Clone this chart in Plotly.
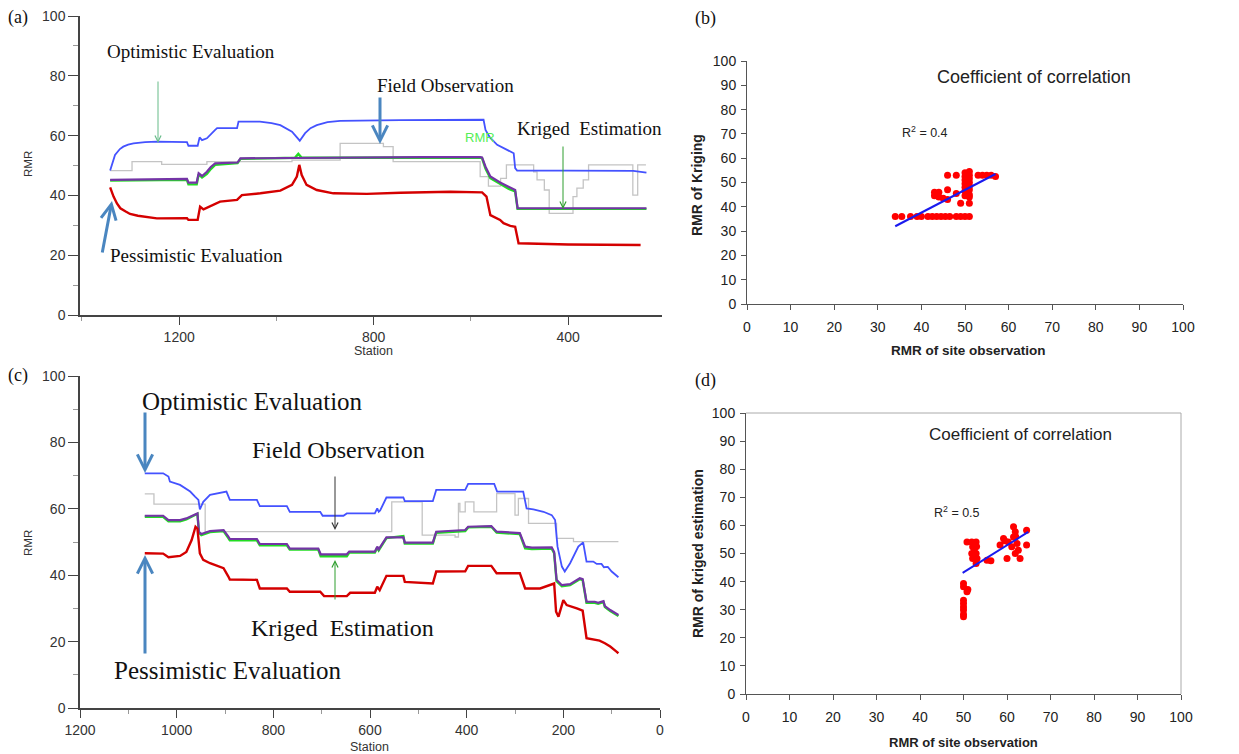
import plotly.graph_objects as go

W, H = 1239, 754
OFF = 8  # page body margin of the browser

# ---------------- Panel (a) : RMR along station ----------------
a_blue_st = [1342, 1336, 1332, 1322, 1315, 1305, 1294, 1270, 1246, 1184, 1181, 1162, 1158, 1153, 1143, 1126, 1122,
             1081, 1078, 1034, 1010, 992, 968, 952, 941, 930, 917, 895, 869, 745, 574, 570, 561, 546, 527, 512,
             509, 505, 400, 266, 239]
a_blue_val = [48.3, 51.5, 53.5, 55.5, 56.3, 57.0, 57.4, 57.8, 58.0, 57.8, 56.6, 56.6, 59.4, 58.5, 59.1, 61.9, 62.5,
              62.5, 64.7, 64.7, 64.2, 63.5, 61.3, 58.3, 60.8, 62.5, 63.5, 64.5, 64.9, 65.2, 65.3, 61.9, 59.4, 56.9,
              55.2, 54.1, 49.1, 48.3, 48.3, 48.2, 47.6]

a_gray_st = [1342, 1297, 1236, 1143, 968, 869, 780, 760, 581, 564, 539, 527, 471, 464, 449, 439, 390, 382, 369,
             358, 267, 257, 240]
a_gray_val = [48.3, 51.3, 50.4, 51.3, 51.8, 57.4, 56.3, 51.3, 46.3, 43.1, 45.7, 50.2, 47.9, 45.2, 41.8, 34.0, 39.6,
              42.4, 45.2, 50.2, 40.1, 50.2, 50.2]

a_purple_st = [1342, 1250, 1184, 1181, 1164, 1160, 1153, 1143, 1135, 1126, 1080, 1074, 1000, 958, 900, 800, 700,
               581, 577, 570, 560, 540, 522, 509, 504, 400, 239]
a_purple_val = [45.2, 45.4, 45.5, 44.3, 44.3, 47.4, 46.5, 47.9, 49.5, 50.7, 51.0, 52.4, 52.5, 52.6, 52.7, 52.8,
                52.8, 52.8, 52.7, 49.6, 46.3, 44.3, 42.7, 41.8, 35.7, 35.7, 35.7]

a_green_st = [1342, 1250, 1184, 1181, 1164, 1160, 1153, 1143, 1135, 1126, 1080, 1074, 1000, 962, 955, 948, 900, 800,
              700, 581, 577, 570, 560, 540, 522, 509, 504, 400, 239]
a_green_val = [45.0, 45.2, 45.2, 43.7, 43.7, 47.0, 46.0, 47.2, 48.8, 50.2, 50.8, 52.2, 52.4, 52.6, 53.9, 52.6, 52.6,
               52.7, 52.7, 52.7, 52.4, 49.0, 45.8, 43.8, 42.2, 41.3, 35.5, 35.5, 35.5]

a_red_st = [1342, 1335, 1328, 1321, 1310, 1301, 1285, 1266, 1246, 1184, 1181, 1162, 1157, 1150, 1136, 1116, 1081,
            1071, 1033, 992, 968, 958, 953, 948, 938, 917, 883, 814, 745, 642, 577, 568, 560, 540, 533, 519, 509,
            502, 400, 251]
a_red_val = [42.7, 39.6, 37.3, 35.7, 34.6, 33.8, 33.2, 32.7, 32.3, 32.4, 31.8, 31.8, 36.2, 35.3, 36.4, 37.9, 38.5,
             40.1, 40.7, 41.6, 43.5, 46.3, 50.2, 46.8, 43.5, 41.8, 40.7, 40.5, 40.9, 41.2, 41.0, 39.6, 33.4, 31.8,
             30.7, 29.8, 29.5, 24.0, 23.6, 23.4]

# ---------------- Panel (c) : RMR along station ----------------
c_blue_st = [1066, 1028, 1017, 1014, 993, 972, 962, 955, 952, 945, 931, 910, 897, 890, 834, 828, 772, 766, 703, 698,
             655, 648, 590, 585, 582, 579, 566, 531, 528, 470, 463, 403, 397, 343, 337, 283, 276, 262, 241, 224,
             217, 212, 203, 197, 186, 169, 159, 152, 138, 131, 121, 116, 108, 100, 86]
c_blue_val = [70.7, 70.7, 69.7, 68.2, 67.2, 65.2, 63.7, 62.7, 59.8, 62.1, 64.2, 64.9, 65.2, 62.7, 62.7, 60.8, 60.8,
              59.1, 59.1, 57.9, 57.9, 58.6, 58.6, 60.1, 59.1, 59.5, 63.4, 63.4, 62.3, 62.3, 65.7, 65.7, 67.5, 67.5,
              65.2, 65.2, 60.1, 59.8, 59.1, 58.1, 56.6, 48.6, 42.6, 41.1, 43.6, 48.6, 49.9, 44.1, 44.1, 43.4, 43.4,
              42.4, 42.5, 41.1, 39.4]

c_gray_st = [1066, 1047, 941, 555, 492, 424, 417, 414, 403, 385, 338, 300, 293, 272, 214, 179, 86]
c_gray_val = [64.5, 61.4, 53.1, 62.1, 52.1, 51.5, 61.6, 59.1, 62.1, 59.1, 64.6, 58.1, 63.1, 55.6, 51.1, 50.1, 50.1]

c_purple_st = [1066, 1028, 1017, 993, 980, 966, 957, 954, 949, 931, 903, 893, 890, 834, 828, 772, 766, 707, 702,
               648, 643, 590, 585, 582, 566, 531, 528, 470, 463, 403, 397, 349, 338, 290, 279, 265, 224, 219, 214,
               203, 186, 166, 160, 152, 135, 128, 117, 114, 103, 86]
c_purple_val = [57.9, 57.9, 56.6, 56.6, 57.1, 58.1, 58.6, 53.1, 52.4, 53.3, 53.6, 51.6, 50.9, 50.9, 49.4, 49.4,
                48.0, 48.0, 46.3, 46.3, 47.1, 47.1, 48.6, 47.8, 51.4, 51.4, 49.8, 49.8, 53.1, 53.6, 54.6, 54.8,
                53.1, 52.7, 48.6, 48.3, 48.4, 47.0, 38.6, 37.0, 37.3, 39.1, 38.8, 32.0, 32.0, 31.7, 32.2, 30.7,
                29.5, 28.0]

c_green_st = [1066, 1028, 1017, 993, 980, 966, 957, 954, 949, 931, 903, 893, 890, 834, 828, 772, 766, 707, 702,
              648, 643, 590, 585, 582, 566, 531, 528, 470, 463, 403, 397, 349, 338, 290, 279, 265, 224, 219, 214,
              203, 186, 166, 160, 152, 135, 128, 117, 114, 103, 86]
c_green_val = [57.6, 57.6, 56.2, 56.2, 56.8, 57.9, 58.5, 52.8, 52.1, 53.0, 53.3, 51.2, 50.5, 50.5, 49.0, 49.0,
               47.7, 47.7, 45.7, 45.7, 46.8, 46.8, 48.3, 47.5, 51.2, 51.8, 49.5, 49.5, 52.8, 53.3, 54.4, 54.6,
               52.8, 52.4, 48.1, 47.9, 48.0, 46.6, 38.2, 36.7, 37.0, 38.8, 38.5, 31.7, 31.7, 31.4, 31.9, 30.4,
               29.2, 27.7]

c_red_st = [1066, 1028, 1017, 993, 980, 969, 961, 957, 952, 945, 931, 903, 893, 890, 834, 828, 772, 766, 703, 695,
            648, 641, 590, 585, 580, 566, 531, 528, 470, 463, 403, 397, 349, 338, 290, 279, 248, 219, 215, 210, 200,
            193, 172, 160, 152, 135, 125, 114, 103, 90, 86]
c_red_val = [46.6, 46.5, 45.4, 45.8, 47.0, 50.6, 54.6, 54.0, 46.6, 44.6, 43.6, 42.1, 39.6, 38.7, 38.6, 36.0, 36.0,
             35.0, 35.0, 33.7, 33.7, 34.7, 34.7, 36.5, 35.5, 39.8, 39.8, 38.0, 37.5, 41.1, 41.2, 42.8, 42.8, 40.6,
             40.6, 36.0, 36.0, 37.5, 29.0, 27.5, 32.5, 31.0, 30.0, 29.3, 21.0, 20.5, 20.3, 19.5, 18.5, 17.0, 16.5]

# ---------------- Panel (b) : scatter ----------------
b_obs = [34, 35.5, 37.5, 39, 40, 41.5, 42.5, 43.5, 44.5, 45.5, 46.5, 48, 49, 50, 51,
         43, 44, 43, 44, 45, 46, 46, 48, 49, 51, 51, 46, 48, 50, 50, 50, 50, 50, 50,
         51, 51, 51, 51, 51, 51, 53, 54, 55, 56, 57, 50, 51]
b_krig = [36, 36, 36, 36, 36, 36, 36, 36, 36, 36, 36, 36, 36, 36, 36,
          46, 46, 44.5, 44, 43.5, 43, 47, 45.5, 41.5, 41.5, 45, 53, 53, 54, 52.5, 51, 49.5, 48, 46.5,
          54.5, 53, 51.5, 50, 48.5, 47, 53, 53, 53, 53, 52.5, 44.5, 44]
b_fit_x = [34, 57]
b_fit_y = [32, 53.5]

# ---------------- Panel (d) : scatter ----------------
d_obs = [50, 50, 51, 50.8, 50, 50, 50, 50, 50, 50,
         50.8, 51.9, 52.9, 52.1, 51.9, 52.9, 53.1, 52.9, 52.1, 52.5, 53,
         55.4, 56.3,
         58.4, 59.2, 60.3, 60, 61.5, 61.9, 61.5, 62.3, 62.6, 63, 64.5, 64.5, 61.1, 61.9, 59.5, 62]
d_krig = [39.3, 38.2, 37.2, 36.4, 33.4, 32.2, 31, 29.9, 28.4, 27.5,
          54.1, 54.1, 54.1, 52.4, 50, 50, 48.2, 46.4, 48.2, 51.5, 52.5,
          47.6, 47.4,
          53, 55.3, 54.1, 48.2, 59.5, 57.7, 55.9, 53.6, 51.2, 48.2, 58.3, 53, 52.4, 50, 54.5, 56]
d_fit_x = [49.8, 64.9]
d_fit_y = [43.1, 57.7]

BLUE = "#4452ff"
PURPLE = "#7434a6"
GREEN = "#22dd22"
RED = "#d40000"
GRAY = "#c4c4c4"
SERIF = "Liberation Serif"
SANS = "Liberation Sans"

fig = go.Figure()


def add_line(x, y, color, width, xa, ya, shape="linear"):
    fig.add_trace(go.Scatter(x=x, y=y, mode="lines", xaxis=xa, yaxis=ya, showlegend=False, hoverinfo="skip",
                             line=dict(color=color, width=width, shape=shape)))


# panel (a)
add_line(a_gray_st, a_gray_val, GRAY, 1.3, "x", "y", "hv")
add_line(a_blue_st, a_blue_val, BLUE, 1.8, "x", "y")
add_line(a_green_st, a_green_val, GREEN, 2.4, "x", "y")
add_line(a_purple_st, a_purple_val, PURPLE, 2.2, "x", "y")
add_line(a_red_st, a_red_val, RED, 2.4, "x", "y")
# panel (c)
add_line(c_gray_st, c_gray_val, GRAY, 1.3, "x3", "y3", "hv")
add_line(c_blue_st, c_blue_val, BLUE, 1.8, "x3", "y3")
add_line(c_green_st, c_green_val, GREEN, 2.4, "x3", "y3")
add_line(c_purple_st, c_purple_val, PURPLE, 2.2, "x3", "y3")
add_line(c_red_st, c_red_val, RED, 2.4, "x3", "y3")

# panel (b)
fig.add_trace(go.Scatter(x=b_obs, y=b_krig, mode="markers", xaxis="x2", yaxis="y2", showlegend=False,
                         marker=dict(color="#ff0000", size=7, line=dict(width=0))))
add_line(b_fit_x, b_fit_y, "#1a1aee", 2, "x2", "y2")
# panel (d)
fig.add_trace(go.Scatter(x=d_obs, y=d_krig, mode="markers", xaxis="x4", yaxis="y4", showlegend=False,
                         marker=dict(color="#ff0000", size=7, line=dict(width=0))))
add_line(d_fit_x, d_fit_y, "#1a1aee", 2, "x4", "y4")


def dx(p0, p1):
    return [(p0 - OFF) / W, (p1 - OFF) / W]


def dy(top, bottom):
    return [1 - (bottom - OFF) / H, 1 - (top - OFF) / H]


line_axis = dict(showline=True, linecolor="#444", linewidth=1.5, showgrid=False, zeroline=False,
                 ticks="outside", tickcolor="#444", tickwidth=1.2, automargin=False,
                 ticklabeloverflow="allow",
                 tickfont=dict(family=SANS, size=14, color="#333"))
sc_axis = dict(showline=True, linecolor="#555", linewidth=1, showgrid=False, zeroline=False,
               ticks="outside", tickcolor="#555", ticklen=5, range=[0, 100], tick0=0, dtick=10,
               automargin=False, ticklabeloverflow="allow",
               tickfont=dict(family=SANS, size=14, color="#222"))

fig.update_layout(
    template="none",
    width=W, height=H, margin=dict(l=0, r=0, t=0, b=0, pad=0, autoexpand=False),
    paper_bgcolor="white", plot_bgcolor="white",
    xaxis=dict(line_axis, domain=dx(80, 662), range=[1404, 207], tick0=0, dtick=400, ticklen=8,
               anchor="y",
               minor=dict(tickmode="linear", tick0=0, dtick=200, ticks="outside", ticklen=4, tickcolor="#999")),
    yaxis=dict(line_axis, domain=dy(16, 315), range=[0, 100], tick0=0, dtick=20, ticklen=10, anchor="x",
               minor=dict(tickmode="linear", tick0=0, dtick=10, ticks="outside", ticklen=5, tickcolor="#999")),
    xaxis3=dict(line_axis, domain=dx(80, 660), range=[1200, 0], tick0=0, dtick=200, ticklen=8,
                anchor="y3",
                minor=dict(tickmode="linear", tick0=0, dtick=100, ticks="outside", ticklen=4, tickcolor="#999")),
    yaxis3=dict(line_axis, domain=dy(376, 708), range=[0, 100], tick0=0, dtick=20, ticklen=10, anchor="x3",
                minor=dict(tickmode="linear", tick0=0, dtick=10, ticks="outside", ticklen=5, tickcolor="#999")),
    xaxis2=dict(sc_axis, domain=dx(747, 1183), anchor="y2", ticklabelstandoff=5),
    yaxis2=dict(sc_axis, domain=dy(61, 304), anchor="x2", ticklabelstandoff=2),
    xaxis4=dict(sc_axis, domain=dx(746, 1181), anchor="y4", ticklabelstandoff=5),
    yaxis4=dict(sc_axis, domain=dy(413, 694), anchor="x4", ticklabelstandoff=2),
)

# light frame on top/right of panel (d)
fig.add_shape(type="line", xref="x4 domain", yref="y4 domain", x0=0, x1=1, y0=1, y1=1,
              line=dict(color="#aaa", width=1))
fig.add_shape(type="line", xref="x4 domain", yref="y4 domain", x0=1, x1=1, y0=0, y1=1,
              line=dict(color="#aaa", width=1))

ann = []


def text(s, x, y, size, family=SERIF, color="#111", angle=0, bold=False, xanchor="center"):
    if bold:
        s = "<b>" + s + "</b>"
    ann.append(dict(text=s, x=(x - OFF) / W, y=1 - (y - OFF) / H, xref="paper", yref="paper", showarrow=False,
                    xanchor=xanchor, yanchor="middle", textangle=angle,
                    font=dict(family=family, size=size, color=color)))


def arrow(hx, hy, tx, ty, color, width, head=5, size=1.0):
    ann.append(dict(text="", x=(hx - OFF) / W, y=1 - (hy - OFF) / H, xref="paper", yref="paper", showarrow=True,
                    ax=tx - hx, ay=ty - hy, axref="pixel", ayref="pixel",
                    arrowhead=head, arrowsize=size, arrowwidth=width, arrowcolor=color, standoff=0))


# panel labels
text("(a)", 18, 17, 18)
text("(b)", 705, 18, 18)
text("(c)", 18, 376, 18)
text("(d)", 705, 380, 18)

# panel (a) texts/arrows
text("Optimistic Evaluation", 191, 52, 19)
text("Field Observation", 445, 86, 19)
text("Pessimistic Evaluation", 196, 255, 19)
text("Kriged\u00a0 Estimation", 589, 129, 19)
text("RMR", 480, 137, 13, family=SANS, color="#55ee55")
text("RMR", 28, 164, 11.5, family=SANS, color="#333", angle=-90)
text("Station", 373, 351, 12.5, family=SANS, color="#333")
arrow(158, 143, 158, 80, "#66bb88", 1, head=5, size=1.2)
arrow(380, 144, 380, 96, "#4a86c0", 3, head=5, size=1.0)
arrow(112, 201, 102, 254, "#4a86c0", 3, head=5, size=1.0)
arrow(563, 209, 563, 145, "#2e9e2e", 1, head=5, size=1.2)

# panel (c) texts/arrows
text("Optimistic Evaluation", 252, 401, 25)
text("Field Observation", 338, 450, 24)
text("Kriged\u00a0 Estimation", 342, 628, 24)
text("Pessimistic Evaluation", 228, 670, 25)
text("RMR", 28, 543, 11.5, family=SANS, color="#333", angle=-90)
text("Station", 369, 747, 12.5, family=SANS, color="#333")
arrow(145, 473, 145, 411, "#4a86c0", 3, head=5, size=1.0)
arrow(335, 530, 335, 475, "#333333", 1, head=5, size=1.2)
arrow(335, 560, 335, 601, "#2e9e2e", 1, head=5, size=1.2)
arrow(145, 555, 145, 655, "#4a86c0", 3, head=5, size=1.0)

# panel (b) texts
text("Coefficient of correlation", 1034, 77, 18, family=SANS, color="#222")
text("R<sup>2</sup> = 0.4", 925, 132, 12.5, family=SANS, color="#222")
text("RMR of Kriging", 697, 185, 14, family=SANS, color="#222", angle=-90, bold=True)
text("RMR of site observation", 968, 351, 13.5, family=SANS, color="#222", bold=True)

# panel (d) texts
text("Coefficient of correlation", 1020, 434, 17, family=SANS, color="#222")
text("R<sup>2</sup> = 0.5", 957, 512, 12.5, family=SANS, color="#222")
text("RMR of kriged estimation", 698, 554, 14, family=SANS, color="#222", angle=-90, bold=True)
text("RMR of site observation", 963, 742, 13, family=SANS, color="#222", bold=True)

fig.update_layout(annotations=ann)

fig.write_html("out.html")
